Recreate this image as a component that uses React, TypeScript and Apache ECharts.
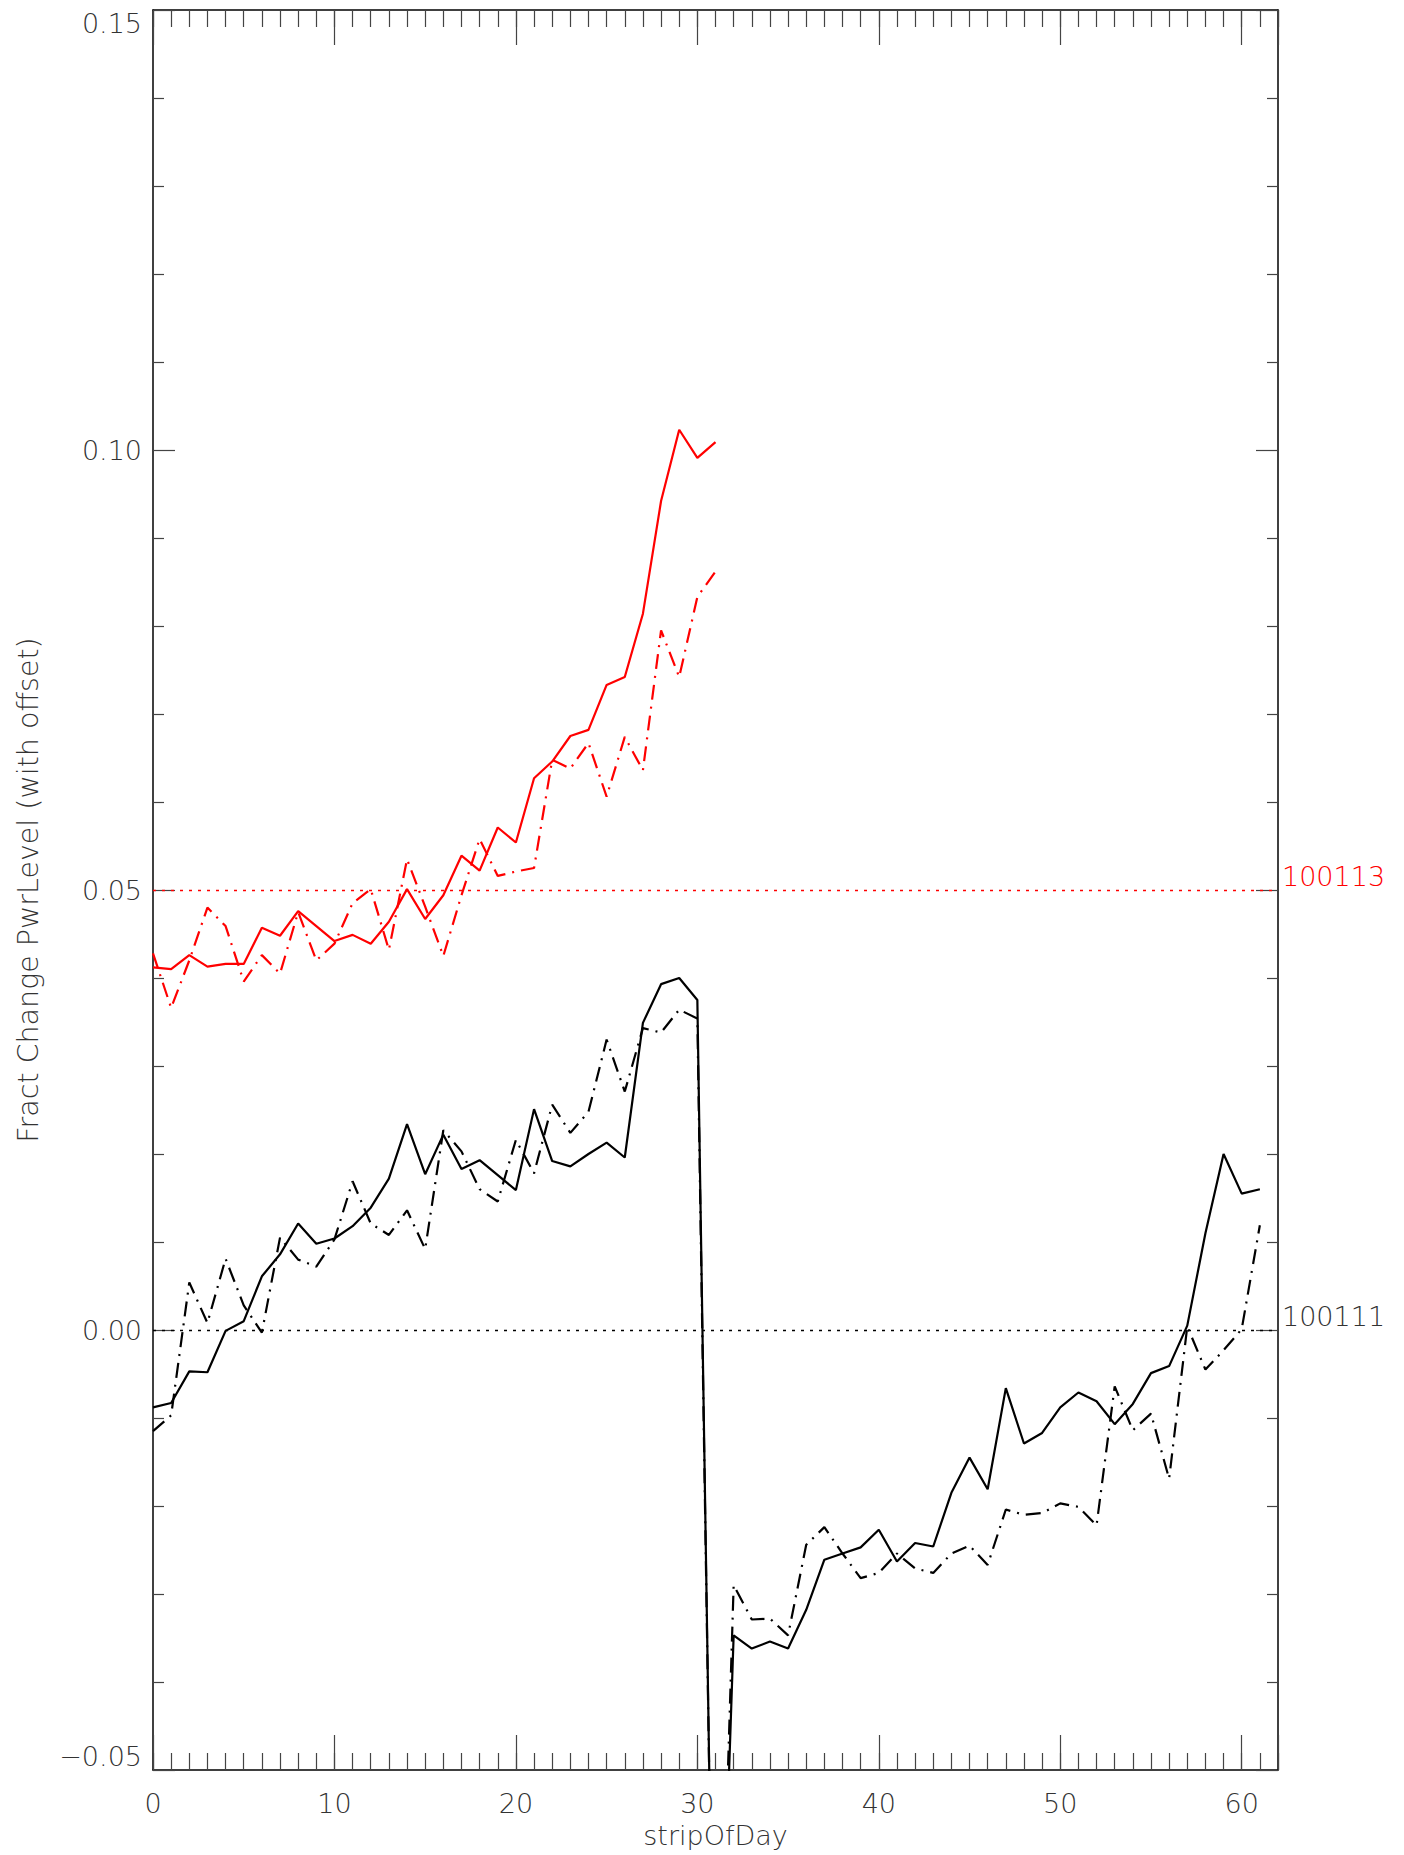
import React, { useEffect, useRef } from "react";
import * as echarts from "echarts";

// ---- Data ----
const redSolid = [
  0.0412, 0.0410, 0.0426, 0.0413, 0.0416, 0.0416, 0.0457, 0.0448, 0.0476, 0.0459,
  0.0442, 0.0449, 0.0439, 0.0464, 0.0501, 0.0467, 0.0494, 0.0539, 0.0522, 0.0571,
  0.0554, 0.0627, 0.0646, 0.0675, 0.0682, 0.0733, 0.0742, 0.0814, 0.0942, 0.1023,
  0.0991, 0.1009,
];
const redDashDot = [
  0.0428, 0.0366, 0.0420, 0.0480, 0.0459, 0.0396, 0.0426, 0.0405, 0.0475, 0.0420,
  0.0439, 0.0485, 0.0501, 0.0432, 0.0535, 0.0481, 0.0425, 0.0494, 0.0558, 0.0516,
  0.0521, 0.0525, 0.0648, 0.0638, 0.0667, 0.0606, 0.0674, 0.0636, 0.0795, 0.0742,
  0.0833, 0.0862,
];
const blackSolid = [
  -0.0088, -0.0083, -0.0047, -0.0048, -0.0001, 0.0010, 0.0061, 0.0086, 0.0121, 0.0098,
  0.0104, 0.0118, 0.0139, 0.0172, 0.0234, 0.0177, 0.0222, 0.0183, 0.0193, 0.0176,
  0.0159, 0.0251, 0.0192, 0.0186, 0.0200, 0.0213, 0.0196, 0.0349, 0.0393, 0.0400,
  0.0375, -0.0960, -0.0347, -0.0362, -0.0354, -0.0362, -0.0318, -0.0261, -0.0254, -0.0247,
  -0.0227, -0.0263, -0.0242, -0.0246, -0.0185, -0.0145, -0.0181, -0.0066, -0.0129, -0.0117,
  -0.0088, -0.0071, -0.0081, -0.0107, -0.0084, -0.0049, -0.0041, 0.0005, 0.0110, 0.0200,
  0.0155, 0.0160,
];
const blackDashDot = [
  -0.0115, -0.0097, 0.0054, 0.0008, 0.0081, 0.0028, -0.0003, 0.0105, 0.0080, 0.0072,
  0.0103, 0.0169, 0.0121, 0.0108, 0.0136, 0.0092, 0.0227, 0.0203, 0.0160, 0.0146,
  0.0216, 0.0178, 0.0256, 0.0224, 0.0248, 0.0330, 0.0271, 0.0343, 0.0338, 0.0364,
  0.0354, -0.0960, -0.0290, -0.0329, -0.0328, -0.0347, -0.0244, -0.0224, -0.0254, -0.0282,
  -0.0276, -0.0254, -0.0271, -0.0276, -0.0254, -0.0245, -0.0267, -0.0204, -0.0210, -0.0208,
  -0.0197, -0.0201, -0.0222, -0.0064, -0.0114, -0.0095, -0.0169, 0.0004, -0.0045, -0.0023,
  0.0001, 0.0119,
];
const offsetLevels = [0.05, 0.0];
const offsetLabels = ["100113", "100111"];
const xLabelValues = [0, 10, 20, 30, 40, 50, 60];
const yMin = -0.05;
const yMax = 0.15;

const FONT = "DejaVu Sans";
const TXT = "#333";

const toPts = (arr: number[]) => arr.map((v, i) => [i, v]);
const fmtY = (v: number) => (v < 0 ? "\u2212" + Math.abs(v).toFixed(2) : v.toFixed(2));
const near = (a: number, b: number) => Math.abs(a - b) < 1e-9;

export default function App() {
  const ref = useRef<HTMLDivElement>(null);
  useEffect(() => {
    document.body.style.margin = "0";
    const chart = echarts.init(ref.current!, null, { renderer: "svg" });
    const dashDot = [15, 7, 2, 7];
    const common = { min: 0, max: 62, splitLine: { show: false } };
    const yCommon = { min: yMin, max: yMax, interval: 0.05, splitLine: { show: false } };
    const tickStyle = { color: "#444", width: 1.2 };
    const labelText = { fontFamily: FONT, fontSize: 27, fontWeight: 200, color: TXT };
    const hiddenY = {
      type: "value", position: "left", ...yCommon,
      axisLine: { show: false, onZero: false },
      axisTick: { show: false },
    };
    chart.setOption({
      animation: false,
      backgroundColor: "#fff",
      grid: { left: 153, top: 10, width: 1125, height: 1760, outerBoundsMode: "none" },
      xAxis: [
        {
          type: "value", position: "bottom", ...common, interval: 10,
          axisLine: { show: true, onZero: false, lineStyle: { color: "#000", width: 1.5 } },
          axisTick: { show: true, inside: true, length: 35, lineStyle: tickStyle },
          axisLabel: {
            show: true, margin: 20, ...labelText,
            formatter: (v: number) => (xLabelValues.includes(v) ? String(v) : ""),
          },
          name: "stripOfDay", nameLocation: "middle", nameGap: 52,
          nameTextStyle: { ...labelText },
        },
        {
          type: "value", position: "bottom", ...common, interval: 1,
          axisLine: { show: false, onZero: false },
          axisTick: { show: true, inside: true, length: 17, lineStyle: tickStyle },
          axisLabel: { show: false },
        },
        {
          type: "value", position: "top", ...common, interval: 10,
          axisLine: { show: true, onZero: false, lineStyle: { color: "#000", width: 1.5 } },
          axisTick: { show: true, inside: true, length: 35, lineStyle: tickStyle },
          axisLabel: { show: false },
        },
        {
          type: "value", position: "top", ...common, interval: 1,
          axisLine: { show: false, onZero: false },
          axisTick: { show: true, inside: true, length: 17, lineStyle: tickStyle },
          axisLabel: { show: false },
        },
      ],
      yAxis: [
        {
          type: "value", position: "left", ...yCommon,
          axisLine: { show: true, onZero: false, lineStyle: { color: "#000", width: 1.5 } },
          axisTick: { show: true, inside: true, length: 22, lineStyle: tickStyle },
          minorTick: { show: true, splitNumber: 5, length: 11, lineStyle: tickStyle },
          axisLabel: {
            show: true, margin: 11, ...labelText,
            formatter: (v: number) => (near(v, yMin) || near(v, yMax) ? "" : fmtY(v)),
          },
          name: "Fract Change PwrLevel (with offset)", nameLocation: "middle", nameGap: 110,
          nameTextStyle: { ...labelText, fontSize: 28.5 },
        },
        {
          type: "value", position: "right", ...yCommon,
          axisLine: { show: true, onZero: false, lineStyle: { color: "#000", width: 1.5 } },
          axisTick: { show: true, inside: true, length: 22, lineStyle: tickStyle },
          minorTick: { show: true, splitNumber: 5, length: 11, lineStyle: tickStyle },
          axisLabel: { show: false },
        },
        {
          ...hiddenY,
          axisLabel: {
            show: true, margin: 11, ...labelText, verticalAlign: "top",
            formatter: (v: number) => (near(v, yMax) ? fmtY(v) : ""),
          },
        },
        {
          ...hiddenY,
          axisLabel: {
            show: true, margin: 11, ...labelText, verticalAlign: "bottom",
            formatter: (v: number) => (near(v, yMin) ? fmtY(v) : ""),
          },
        },
      ],
      series: [
        {
          type: "line", name: "redSolid", data: toPts(redSolid), showSymbol: false, symbol: "none",
          lineStyle: { color: "#ff0000", width: 2.2 }, clip: true,
          markLine: {
            silent: true, symbol: ["none", "none"],
            lineStyle: { color: "#ff0000", type: [3, 6], width: 1.3 },
            label: {
              show: true, position: "end", distance: 4, formatter: offsetLabels[0],
              ...labelText, color: "#ff0000", verticalAlign: "bottom",
            },
            data: [{ yAxis: offsetLevels[0] }],
          },
        },
        {
          type: "line", name: "redDashDot", data: toPts(redDashDot), showSymbol: false, symbol: "none",
          lineStyle: { color: "#ff0000", width: 2.2, type: dashDot }, clip: true,
        },
        {
          type: "line", name: "blackSolid", data: toPts(blackSolid), showSymbol: false, symbol: "none",
          lineStyle: { color: "#000", width: 2.2 }, clip: true,
          markLine: {
            silent: true, symbol: ["none", "none"],
            lineStyle: { color: "#000", type: [3, 6], width: 1.3 },
            label: {
              show: true, position: "end", distance: 4, formatter: offsetLabels[1],
              ...labelText, color: "#333", verticalAlign: "bottom",
            },
            data: [{ yAxis: offsetLevels[1] }],
          },
        },
        {
          type: "line", name: "blackDashDot", data: toPts(blackDashDot), showSymbol: false, symbol: "none",
          lineStyle: { color: "#000", width: 2.2, type: dashDot }, clip: true,
        },
      ],
    });
    return () => chart.dispose();
  }, []);
  return (
    <div
      ref={ref}
      style={{ position: "absolute", left: 0, top: 0, width: 1404, height: 1855 }}
    />
  );
}
